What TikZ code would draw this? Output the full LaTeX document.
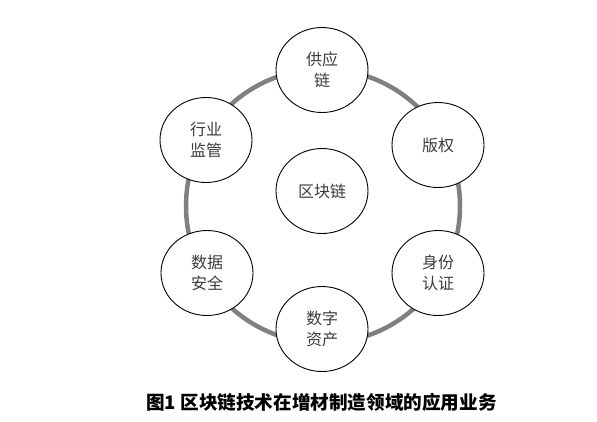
\documentclass[tikz,border=0pt]{standalone}
\usepackage{fontspec}
\newfontfamily\cjk{Noto Sans CJK SC}
\definecolor{ringgray}{RGB}{128, 128, 128}
\definecolor{txtgray}{RGB}{60, 60, 60}
\usetikzlibrary{shapes.geometric, positioning}

\begin{document}
\begin{tikzpicture}[x=1pt, y=-1pt,
		biz/.style={draw=black, line width=0.9pt, fill=white, ellipse, minimum width=92pt, minimum height=85pt, inner sep=0pt, align=center, text=txtgray, font=\cjk\fontsize{16}{21}\selectfont}]
	
	\useasboundingbox (0,0) rectangle (597,421);
	
	% ring
	\draw[color=ringgray, line width=4.5pt] (323,206) circle (137);
	
	% business nodes
	\node[biz] (supply) at (322,70) {供应\\链};
	\node[biz] (copyright) at (438,145) {版权};
	\node[biz] (identity) at (438,273) {身份\\认证};
	\node[biz] (asset) at (322,329) {数字\\资产};
	\node[biz] (security) at (207,273) {数据\\安全};
	\node[biz] (supervise) at (206,140) {行业\\监管};
	
	% center
	\node[biz] (chain) at (322,191) {区块链};
	
	% caption
	\node[font=\cjk\bfseries\fontsize{18.6}{22}\selectfont] (caption) at (321.5,402) {图1 区块链技术在增材制造领域的应用业务};
	
\end{tikzpicture}
\end{document}
